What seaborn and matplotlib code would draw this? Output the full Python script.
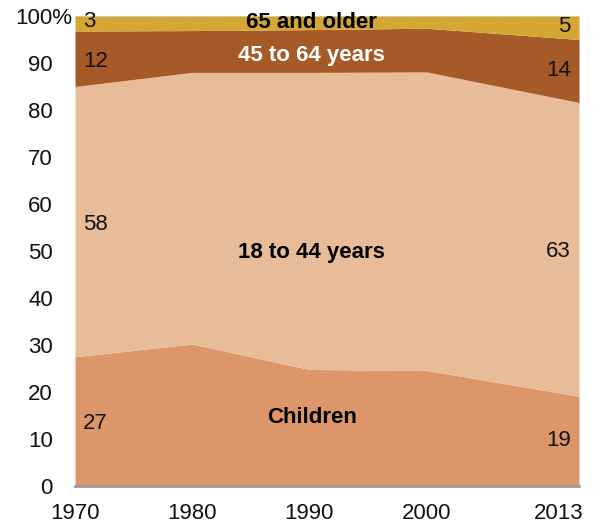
import matplotlib
matplotlib.use("Agg")
import matplotlib.pyplot as plt
import matplotlib.transforms as mtransforms
import seaborn as sns

years = [1970, 1980, 1990, 2000, 2013]
groups = ["Children", "18 to 44 years", "45 to 64 years", "65 and older"]
children = [27.5, 30.2, 24.8, 24.6, 19.1]
adults_18_44 = [57.5, 57.8, 63.2, 63.5, 62.5]
adults_45_64 = [11.8, 8.9, 9.1, 9.3, 13.4]
older_65 = [3.2, 3.1, 2.9, 2.6, 5.0]
first_labels = ["27", "58", "12", "3"]
last_labels = ["19", "63", "14", "5"]
yticks = [0, 10, 20, 30, 40, 50, 60, 70, 80, 90, 100]
ytick_labels = ["0", "10", "20", "30", "40", "50", "60", "70", "80", "90", "100%"]

colors = ["#DC966A", "#E8BB99", "#A65A28", "#D4A733"]

sns.set_theme(style="white")
plt.rcParams["font.family"] = ["Liberation Sans", "DejaVu Sans"]

fig = plt.figure(figsize=(5.97, 5.27), dpi=100)
ax = fig.add_axes([75 / 597, 1 - 486 / 527, 504 / 597, 470 / 527])

ax.stackplot(years, children, adults_18_44, adults_45_64, older_65,
             colors=colors, linewidth=0)

ax.set_xlim(1970, 2013)
ax.set_ylim(0, 100)
ax.set_xticks(years)
ax.set_xticklabels([str(y) for y in years], fontsize=16, color="#111111")
ax.set_yticks(yticks)
ax.set_yticklabels(ytick_labels, fontsize=16, color="#111111")
ax.tick_params(axis="y", length=0, pad=16)
ax.tick_params(axis="x", length=0, pad=12)
last = ax.get_xticklabels()[-1]
last.set_transform(last.get_transform() +
                   mtransforms.ScaledTranslation(-0.2, 0, fig.dpi_scale_trans))
# the % sign hangs past the other labels, toward the axis
top = ax.get_yticklabels()[-1]
top.set_transform(top.get_transform() +
                  mtransforms.ScaledTranslation(0.19, 0, fig.dpi_scale_trans))

for s in ["left", "right", "top"]:
    ax.spines[s].set_visible(False)
ax.spines["bottom"].set_color("#999999")
ax.spines["bottom"].set_linewidth(2)
ax.axhline(100, color="#bbbbbb", lw=0.8, ls=":", zorder=3)

# group names in the middle of each band
bold = dict(fontsize=16, fontweight="bold", ha="center", va="center")
ax.text(1990.2, 98.6, groups[3], color="black", **bold)
ax.text(1990.2, 91.7, groups[2], color="white", **bold)
ax.text(1990.2, 49.7, groups[1], color="black", **bold)
ax.text(1990.2, 14.5, groups[0], color="black", **bold)

# value labels at both ends
num = dict(fontsize=16, color="#111111", va="center")
first_y = [13.2, 55.6, 90.4, 98.9]
last_y = [9.6, 49.9, 88.3, 97.7]
for lab, y in zip(first_labels, first_y):
    ax.text(1970.7, y, lab, ha="left", **num)
for lab, y in zip(last_labels, last_y):
    ax.text(2012.3, y, lab, ha="right", **num)

fig.savefig("out.png", dpi=100)
